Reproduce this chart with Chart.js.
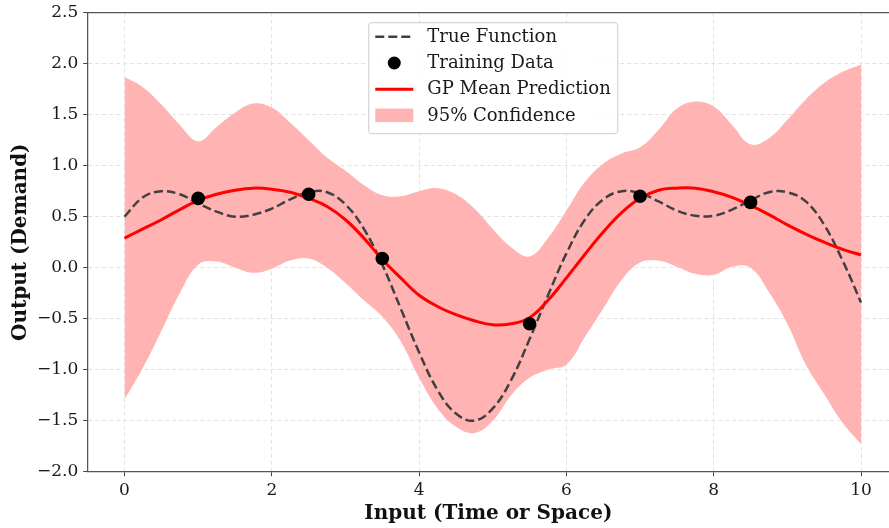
<!DOCTYPE html>
<html>
<head>
<meta charset="utf-8">
<script src="https://cdn.jsdelivr.net/npm/chart.js@4.4.1/dist/chart.umd.min.js"></script>
<style>
  html, body { margin: 0; padding: 0; background: #fff; overflow: hidden; }
  #wrap { width: 889px; height: 528px; }
</style>
</head>
<body>
<div id="wrap"><canvas id="gpChart" width="889" height="528"></canvas></div>
<script>
// --- data ---
const xGrid = [0, 0.25, 0.5, 0.75, 1, 1.25, 1.5, 1.75, 2, 2.25, 2.5, 2.75, 3, 3.25, 3.5, 3.75,
    4, 4.25, 4.5, 4.75, 5, 5.25, 5.5, 5.75, 6, 6.25, 6.5, 6.75, 7, 7.25, 7.5, 7.75,
    8, 8.25, 8.5, 8.75, 9, 9.25, 9.5, 9.75, 10];

const trueY = [0.50, 0.69, 0.75, 0.72, 0.63, 0.55, 0.50, 0.52, 0.58, 0.67, 0.74, 0.74, 0.62, 0.38, 0.03, -0.40,
    -0.83, -1.20, -1.43, -1.50, -1.38, -1.10, -0.70, -0.27, 0.14, 0.47, 0.67, 0.75, 0.73, 0.65, 0.56, 0.51,
    0.51, 0.57, 0.66, 0.74, 0.74, 0.65, 0.42, 0.07, -0.34];

const meanY = [0.29, 0.38, 0.47, 0.57, 0.66, 0.72, 0.76, 0.78, 0.77, 0.74, 0.68, 0.60, 0.47, 0.29, 0.08, -0.10,
    -0.27, -0.38, -0.46, -0.52, -0.56, -0.55, -0.49, -0.32, -0.10, 0.13, 0.35, 0.54, 0.68, 0.76, 0.78, 0.78,
    0.745, 0.69, 0.61, 0.52, 0.42, 0.33, 0.25, 0.18, 0.125];

const upperY = [1.87, 1.77, 1.60, 1.40, 1.24, 1.38, 1.52, 1.61, 1.57, 1.42, 1.25, 1.08, 0.95, 0.81, 0.71, 0.70,
    0.75, 0.78, 0.72, 0.58, 0.38, 0.20, 0.11, 0.29, 0.56, 0.84, 1.02, 1.12, 1.18, 1.35, 1.56, 1.63,
    1.58, 1.40, 1.21, 1.27, 1.45, 1.65, 1.81, 1.92, 1.99];

const lowerY = [-1.29, -0.98, -0.62, -0.25, 0.03, 0.06, 0.00, -0.05, -0.01, 0.07, 0.09, 0.00, -0.15, -0.32, -0.48, -0.72,
    -1.08, -1.38, -1.56, -1.62, -1.50, -1.25, -1.08, -1.00, -0.95, -0.68, -0.40, -0.12, 0.05, 0.07, 0.01, -0.06,
    -0.07, 0.01, 0.00, -0.24, -0.55, -0.95, -1.24, -1.52, -1.73];

const trainX = [1.0, 2.5, 3.5, 5.5, 7.0, 8.5];
const trainY = [0.68, 0.72, 0.09, -0.55, 0.70, 0.64];

const xTicks = [0, 2, 4, 6, 8, 10];
const yTicks = [-2.0, -1.5, -1.0, -0.5, 0.0, 0.5, 1.0, 1.5, 2.0, 2.5];

const seriesLabels = ['True Function', 'Training Data', 'GP Mean Prediction', '95% Confidence'];

// --- helpers ---
const FONT = "'DejaVu Serif', 'Liberation Serif', serif";
const pts = (xs, ys) => xs.map((x, i) => ({ x: x, y: ys[i] }));
const fmt = (v) => v.toFixed(1).replace('-', '\u2212');

const BAND = 'rgba(255, 179, 179, 1)';
const TRUE_COL = 'rgba(64, 64, 64, 1)';

// top spine (matplotlib style frame)
const topSpine = {
    id: 'topSpine',
    afterDraw(chart) {
        const { ctx, chartArea } = chart;
        ctx.save();
        ctx.strokeStyle = '#555';
        ctx.lineWidth = 1.25;
        ctx.beginPath();
        ctx.moveTo(chartArea.left, chartArea.top);
        ctx.lineTo(chartArea.right, chartArea.top);
        ctx.stroke();
        ctx.restore();
    }
};

// boxed legend, upper center
const legendBox = {
    id: 'legendBox',
    afterDatasetsDraw(chart) {
        const { ctx, chartArea, scales } = chart;
        const w = 249, h = 111;
        const left = scales.x.getPixelForValue(5.0) - w / 2;
        const top = chartArea.top + 9.5;

        ctx.save();
        ctx.fillStyle = 'rgba(255,255,255,0.85)';
        ctx.strokeStyle = '#cccccc';
        ctx.lineWidth = 1;
        ctx.beginPath();
        ctx.roundRect(left + 0.5, top + 0.5, w, h, 3);
        ctx.fill();
        ctx.stroke();

        const hx0 = left + 7, hx1 = left + 45;
        const rowY = (i) => top + 14.5 + i * 26.3;

        // True Function handle
        ctx.strokeStyle = TRUE_COL;
        ctx.lineWidth = 2.5;
        ctx.setLineDash([9, 4]);
        ctx.beginPath();
        ctx.moveTo(hx0, rowY(0));
        ctx.lineTo(hx1, rowY(0));
        ctx.stroke();
        ctx.setLineDash([]);

        // Training Data handle
        ctx.fillStyle = '#000';
        ctx.beginPath();
        ctx.arc((hx0 + hx1) / 2, rowY(1), 6.5, 0, Math.PI * 2);
        ctx.fill();

        // GP mean handle
        ctx.strokeStyle = '#ff0000';
        ctx.lineWidth = 3;
        ctx.beginPath();
        ctx.moveTo(hx0, rowY(2));
        ctx.lineTo(hx1, rowY(2));
        ctx.stroke();

        // band handle
        ctx.fillStyle = BAND;
        ctx.fillRect(hx0, rowY(3) - 7, hx1 - hx0, 13.5);

        ctx.fillStyle = '#1a1a1a';
        ctx.font = '18px ' + FONT;
        ctx.textBaseline = 'middle';
        ctx.textAlign = 'left';
        seriesLabels.forEach((t, i) => ctx.fillText(t, left + 59, rowY(i) + 0.5));
        ctx.restore();
    }
};

const ctx = document.getElementById('gpChart').getContext('2d');

new Chart(ctx, {
    type: 'line',
    data: {
        datasets: [
            {
                label: seriesLabels[1],
                data: pts(trainX, trainY),
                showLine: false,
                pointRadius: 6.8,
                pointBackgroundColor: '#000',
                pointBorderWidth: 0
            },
            {
                label: seriesLabels[2],
                data: pts(xGrid, meanY),
                borderColor: '#ff0000',
                borderWidth: 3,
                pointRadius: 0,
                tension: 0.4,
                fill: false
            },
            {
                label: seriesLabels[0],
                data: pts(xGrid, trueY),
                borderColor: TRUE_COL,
                borderWidth: 2.5,
                borderDash: [9, 4],
                pointRadius: 0,
                tension: 0.4,
                fill: false
            },
            {
                label: seriesLabels[3],
                data: pts(xGrid, upperY),
                borderWidth: 0,
                borderColor: 'rgba(0,0,0,0)',
                backgroundColor: BAND,
                pointRadius: 0,
                tension: 0.4,
                fill: '+1'
            },
            {
                label: 'lower',
                data: pts(xGrid, lowerY),
                borderWidth: 0,
                borderColor: 'rgba(0,0,0,0)',
                pointRadius: 0,
                tension: 0.4,
                fill: false
            }
        ]
    },
    options: {
        responsive: false,
        animation: false,
        events: [],
        layout: {
            autoPadding: false,
            padding: { top: 12.7, right: 0, bottom: 0, left: 0 }
        },
        plugins: {
            legend: { display: false },
            tooltip: { enabled: false }
        },
        scales: {
            x: {
                type: 'linear',
                min: -0.5,
                max: 10.38,
                afterBuildTicks: (axis) => { axis.ticks = xTicks.map(v => ({ value: v })); },
                afterFit: (axis) => {
                    axis.height = 56.3;
                    axis.paddingLeft = 0;
                    axis.paddingRight = 0;
                },
                ticks: {
                    color: '#1a1a1a',
                    font: { family: FONT, size: 17 },
                    padding: 4,
                    maxRotation: 0,
                    callback: (v) => String(v)
                },
                grid: {
                    color: '#e3e3e3',
                    lineWidth: 1,
                    tickColor: '#444',
                    tickLength: 4.5,
                    tickWidth: 1,
                    tickBorderDash: []
                },
                border: { display: true, color: '#555', width: 1.25, dash: [4, 3] },
                title: {
                    display: true,
                    text: 'Input (Time or Space)',
                    color: '#111',
                    font: { family: FONT, size: 20, weight: 'bold' },
                    padding: { top: 0, bottom: 2 }
                }
            },
            y: {
                min: -2.0,
                max: 2.5,
                afterBuildTicks: (axis) => { axis.ticks = yTicks.map(v => ({ value: v })); },
                afterFit: (axis) => {
                    axis.width = 87.7;
                    axis.paddingTop = 0;
                    axis.paddingBottom = 0;
                },
                ticks: {
                    color: '#1a1a1a',
                    font: { family: FONT, size: 17 },
                    padding: 5,
                    callback: (v) => fmt(v)
                },
                grid: {
                    color: '#e3e3e3',
                    lineWidth: 1,
                    tickColor: '#444',
                    tickLength: 4.5,
                    tickWidth: 1,
                    tickBorderDash: []
                },
                border: { display: true, color: '#555', width: 1.25, dash: [4, 3] },
                title: {
                    display: true,
                    text: 'Output (Demand)',
                    color: '#111',
                    font: { family: FONT, size: 20, weight: 'bold' },
                    padding: { top: 8.5, bottom: 0 }
                }
            }
        }
    },
    plugins: [legendBox, topSpine]
});
</script>
</body>
</html>
